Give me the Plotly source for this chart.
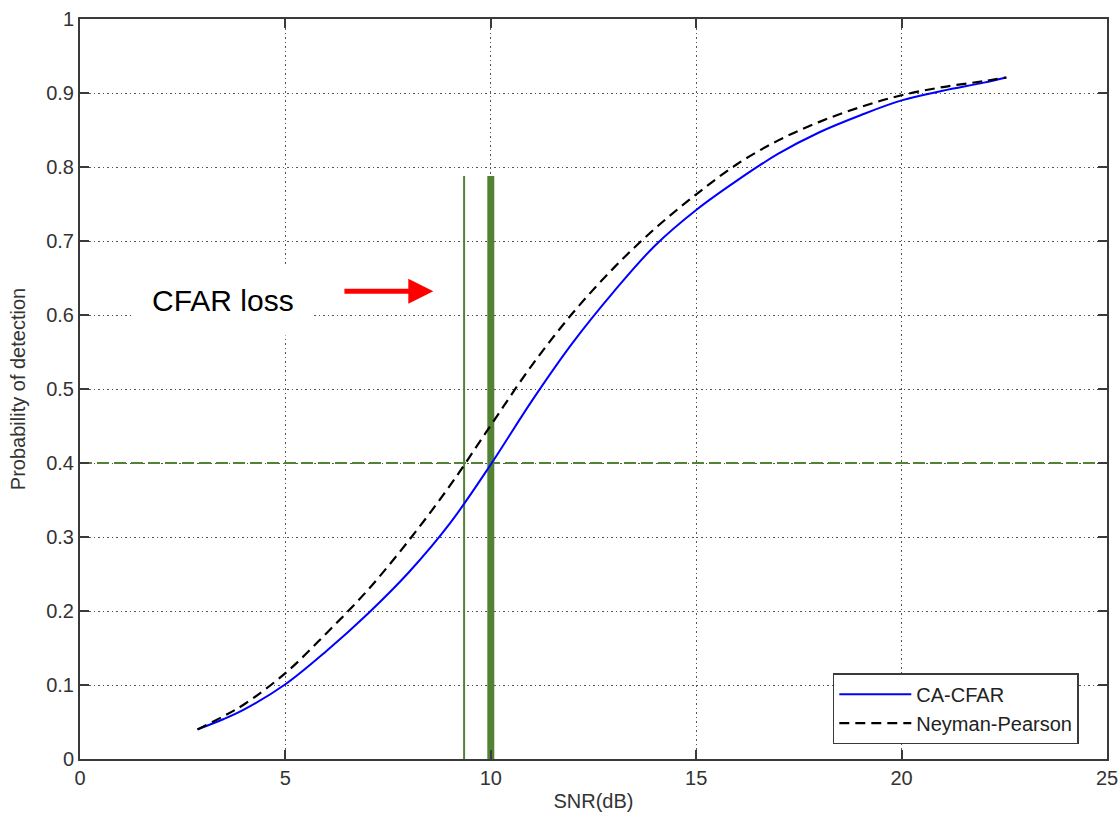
import plotly.graph_objects as go

# ---- data ----
snr_db = [2.86, 3.5, 4, 5, 6, 7, 8, 9, 10, 11, 12, 13, 14, 15, 16, 17, 18, 19, 20, 21, 22, 22.55]
pd_ca_cfar = [0.040, 0.054, 0.067, 0.101, 0.146, 0.196, 0.252, 0.318, 0.398, 0.484, 0.563, 0.632,
              0.694, 0.742, 0.782, 0.818, 0.847, 0.870, 0.890, 0.903, 0.914, 0.921]
pd_neyman_pearson = [0.040, 0.058, 0.074, 0.116, 0.170, 0.228, 0.295, 0.369, 0.451, 0.532, 0.603, 0.664,
                     0.717, 0.763, 0.804, 0.836, 0.861, 0.881, 0.897, 0.908, 0.916, 0.921]

pd_threshold = 0.4
snr_np_at_threshold = 9.35
snr_cfar_at_threshold = 10.0
marker_top = 0.788
x_range = [0, 25]
y_range = [0, 1]

green = "rgb(84,130,53)"
font_family = "Liberation Sans, Arial, sans-serif"
fs = 20
txt = "#333333"

fig = go.Figure()

# threshold line
fig.add_trace(go.Scatter(x=x_range, y=[pd_threshold, pd_threshold], mode="lines",
                         line=dict(color=green, width=1.8, dash="12px,5px"),
                         showlegend=False, hoverinfo="skip"))
# vertical markers
fig.add_trace(go.Scatter(x=[snr_np_at_threshold, snr_np_at_threshold], y=[0, marker_top], mode="lines",
                         line=dict(color=green, width=2), showlegend=False, hoverinfo="skip"))
fig.add_trace(go.Scatter(x=[snr_cfar_at_threshold, snr_cfar_at_threshold], y=[0, marker_top], mode="lines",
                         line=dict(color=green, width=7), showlegend=False, hoverinfo="skip"))

fig.add_trace(go.Scatter(x=snr_db, y=pd_ca_cfar, mode="lines", name="CA-CFAR",
                         line=dict(color="blue", width=2, shape="spline", smoothing=1.0)))
fig.add_trace(go.Scatter(x=snr_db, y=pd_neyman_pearson, mode="lines", name="Neyman-Pearson",
                         line=dict(color="black", width=2.2, dash="10px,6px", shape="spline", smoothing=1.0)))

axis_common = dict(
    showgrid=True, gridcolor="#555555", griddash="1.5px,3px", gridwidth=1.2,
    showline=True, linecolor="#3a3a3a", linewidth=2, mirror="ticks",
    ticks="inside", ticklen=9, tickwidth=2, tickcolor="#3a3a3a",
    zeroline=False, automargin=False,
    tickfont=dict(family=font_family, size=fs, color=txt),
)

fig.update_xaxes(range=x_range, dtick=5, tick0=0,
                 title=dict(text="SNR(dB)", font=dict(family=font_family, size=fs, color=txt), standoff=6),
                 **axis_common)
fig.update_yaxes(range=y_range, dtick=0.1, tick0=0,
                 title=dict(text="Probability of detection", font=dict(family=font_family, size=fs, color=txt), standoff=15),
                 **axis_common)

fig.add_annotation(x=3.48, y=0.62, xref="x", yref="y", text="CFAR loss", showarrow=False,
                   font=dict(family=font_family, size=30, color="black"),
                   bgcolor="white", borderpad=18)
fig.add_annotation(x=8.6, y=0.632, ax=6.4, ay=0.632, xref="x", yref="y", axref="x", ayref="y",
                   text="", showarrow=True, arrowhead=2, arrowsize=1, arrowwidth=5, arrowcolor="red")

fig.update_layout(
    width=1120, height=819,
    margin=dict(l=80, r=13, t=19, b=60, autoexpand=False),
    paper_bgcolor="white", plot_bgcolor="white",
    font=dict(family=font_family, size=fs, color=txt),
    legend=dict(x=0.733, y=0.116, xanchor="left", yanchor="top",
                bgcolor="white", bordercolor="#3a3a3a", borderwidth=1.5,
                font=dict(family=font_family, size=fs, color="#222222"),
                itemwidth=72, tracegroupgap=0),
    showlegend=True,
)

fig.write_html("out.html")
